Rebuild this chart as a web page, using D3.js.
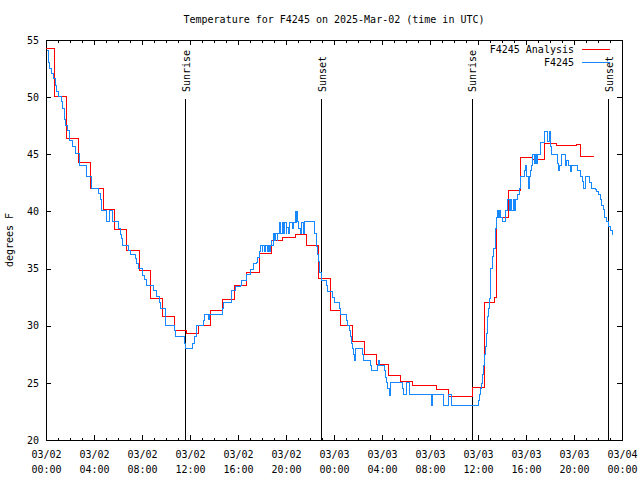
<!DOCTYPE html>
<html><head><meta charset="utf-8">
<script src="https://cdn.jsdelivr.net/npm/d3@7"></script>
<style>
body{margin:0;background:#fff}
text{font-family:"DejaVu Sans Mono",monospace;font-size:10px;fill:#000}
</style>
</head><body><svg id="c" width="640" height="480"></svg>
<script>
// ---- data (hours since 2025-03-02 00:00 UTC, degrees F) ----
const titleText = "Temperature for F4245 on 2025-Mar-02 (time in UTC)";
const yLabel = "degrees F";
const seriesNames = ["F4245 Analysis", "F4245"];
const seriesColors = ["#ff0000", "#1888ff"];

const redHours = [0,0.69,1.72,2.69,3.71,4.75,5.67,6.69,7.75,8.69,9.72,10.71,11.71,12.69,13.67,14.69,15.69,16.72,17.75,18.75,19.72,20.75,21.72,22.69,23.72,24.58,25.56,26.56,27.56,28.56,29.58,30.56,32.5,33.56,35.53,36.53,37.39,37.54,38.53,39.53,40.56,41.56,42.58,44.22,44.5,45.64];
const redValues = [54.3,50.1,46.4,44.3,42.0,40.2,38.4,36.6,34.85,32.4,30.8,29.6,29.3,30.0,31.3,32.3,33.5,34.65,36.3,37.44,37.7,38.0,37.0,34.1,31.3,30.0,28.66,27.5,26.6,25.66,25.16,24.75,24.4,23.85,24.6,32.0,32.5,39.5,41.85,44.7,44.55,45.96,45.8,45.87,44.8,44.8];

const blueHours = [0.06,0.19,0.33,0.475,0.61,0.75,0.89,1.03,1.25,1.39,1.5,1.64,1.78,1.92,2.22,2.42,2.83,3.375,3.83,4.36,4.5,4.64,5.06,5.33,5.5,6.03,6.17,6.25,6.39,6.86,7.06,7.42,7.5,7.69,8.06,8.19,8.39,8.94,9.17,9.44,9.5,9.92,10.69,10.75,11.53,11.64,12.19,12.36,12.56,13.11,13.19,13.53,13.61,14.69,14.78,15.42,15.47,15.83,16.17,16.31,16.72,17.0,17.28,17.5,17.61,17.78,17.89,18.0,18.08,18.21,18.29,18.42,18.5,18.63,18.67,18.75,18.83,18.94,19.04,19.13,19.25,19.33,19.46,19.58,19.67,19.79,19.88,20.0,20.08,20.21,20.33,20.5,20.61,20.75,20.83,20.89,20.97,21.08,21.17,21.28,21.42,21.5,22.36,22.5,22.61,22.69,22.83,22.92,22.97,23.39,23.44,23.89,24.0,24.44,24.56,25.0,25.11,25.33,25.39,25.47,25.53,25.61,25.67,25.83,26.39,26.44,27.08,27.14,27.64,27.69,27.83,28.17,28.25,28.39,28.44,28.61,28.67,28.72,29.72,29.83,30.0,30.25,30.33,32.14,32.22,33.11,33.53,33.81,36.03,36.11,36.22,36.31,36.36,36.44,36.5,36.58,36.64,36.72,36.78,36.86,36.94,37.0,37.06,37.22,37.33,37.42,37.47,37.56,37.61,37.69,37.78,37.89,38.03,38.25,38.33,38.47,38.63,38.71,38.83,38.92,39.06,39.13,39.31,39.42,39.5,39.86,39.92,40.0,40.08,40.19,40.28,40.39,40.47,40.53,40.67,40.75,40.88,40.96,41.17,41.58,41.81,41.92,42.0,42.08,42.14,42.64,42.69,42.78,42.92,42.97,43.25,43.39,43.53,43.67,43.75,44.31,44.58,44.69,44.78,44.92,45.33,45.42,45.81,45.89,46.03,46.17,46.31,46.44,46.58,46.72,46.86,47.06,47.22,47.28];
const blueValues = [54.1,53.05,52.5,52.1,51.65,51.06,50.5,50.07,49.6,49.0,48.06,47.56,47.1,46.25,45.66,45.1,44.06,43.1,42.0,41.6,41.06,40.04,39.1,40.04,39.1,38.5,38.0,37.6,37.06,36.6,36.2,35.9,35.46,35.0,34.4,34.06,33.56,33.04,32.57,32.05,31.5,30.06,29.54,29.04,28.46,28.0,28.46,29.04,30.0,30.44,30.94,30.55,30.94,31.5,32.0,32.3,33.06,33.4,33.56,34.0,34.5,34.9,35.46,35.53,36.0,36.5,37.06,36.5,37.06,36.5,37.06,36.5,37.06,36.5,37.06,37.44,37.06,38.1,37.44,38.1,37.44,38.1,39.0,38.1,39.0,38.1,39.0,38.1,38.6,38.1,39.0,38.5,39.0,40.0,39.0,40.0,39.1,38.5,38.1,39.0,38.1,39.1,38.1,36.9,36.2,35.6,34.7,34.3,34.0,33.56,33.0,32.5,32.05,31.5,31.0,30.5,30.0,29.54,29.04,28.46,28.0,27.44,27.0,28.0,27.44,27.0,26.5,26.04,26.5,27.0,26.5,26.04,25.5,25.0,24.5,23.9,24.5,25.0,24.5,24.0,25.0,24.5,24.0,23.0,24.0,23.0,24.0,23.0,23.5,23.94,24.5,24.96,25.7,26.5,27.0,27.44,28.2,29.3,30.8,31.5,32.4,34.0,35.0,36.04,36.8,37.44,38.5,39.5,40.07,39.5,40.07,39.5,39.1,39.5,40.1,41.06,40.07,41.06,40.07,41.06,40.07,41.06,41.44,42.0,43.04,43.6,44.06,43.6,43.04,42.0,43.04,43.6,44.06,44.94,44.2,44.94,44.2,44.94,46.0,46.98,46.1,46.98,46.1,45.66,45.0,44.2,43.56,44.06,44.5,45.0,44.06,44.5,44.06,43.5,44.06,43.56,43.04,42.6,42.0,43.04,42.5,42.0,41.9,41.73,41.44,41.06,40.56,40.2,39.5,39.1,38.67,38.3,38.0,38.0];

const sunLabels = ["Sunrise","Sunset","Sunrise","Sunset"];
const sunHours = [11.63,22.96,35.53,46.88];
const yTickValues = [20,25,30,35,40,45,50,55];

// ---- layout ----
const L = 46, R = 622, T = 40, B = 440;
const start = Date.UTC(2025, 2, 2);
const toDate = h => new Date(start + h * 3600e3);

const svg = d3.select("#c");
const x = d3.scaleUtc().domain([toDate(0), toDate(48)]).range([L, R]);
const y = d3.scaleLinear().domain([20, 55]).range([B, T]);

// frame
svg.append("rect").attr("x", L).attr("y", T).attr("width", R - L).attr("height", B - T)
  .attr("fill", "none").attr("stroke", "#000").attr("stroke-width", 1).attr("shape-rendering", "crispEdges");

const majorTicks = d3.utcHour.every(4).range(toDate(0), toDate(48.01));
const minorTicks = d3.utcHour.every(1).range(toDate(0), toDate(48.01));

function styleAxis(g) {
  g.select(".domain").remove();
  g.selectAll("line").attr("stroke", "#000").attr("shape-rendering", "crispEdges");
  g.selectAll("text").attr("font-family", '"DejaVu Sans Mono",monospace').attr("font-size", 10).attr("fill", "#000");
}

// bottom axis (major with labels)
const fmtDay = d3.utcFormat("%m/%d"), fmtTime = d3.utcFormat("%H:%M");
const gx = svg.append("g").attr("transform", `translate(0,${B})`)
  .call(d3.axisBottom(x).tickValues(majorTicks).tickSizeInner(-5).tickSizeOuter(0).tickPadding(11).tickFormat(() => ""))
  .call(styleAxis);
gx.selectAll(".tick text").each(function(d) {
  const t = d3.select(this);
  t.append("tspan").attr("x", 0).text(fmtDay(d));
  t.append("tspan").attr("x", 0).attr("dy", 15).text(fmtTime(d));
});
svg.append("g").attr("transform", `translate(0,${B})`)
  .call(d3.axisBottom(x).tickValues(minorTicks).tickSizeInner(-2.5).tickSizeOuter(0).tickFormat(() => ""))
  .call(styleAxis);
// top mirror
svg.append("g").attr("transform", `translate(0,${T})`)
  .call(d3.axisTop(x).tickValues(majorTicks).tickSizeInner(-5).tickSizeOuter(0).tickFormat(() => ""))
  .call(styleAxis);
svg.append("g").attr("transform", `translate(0,${T})`)
  .call(d3.axisTop(x).tickValues(minorTicks).tickSizeInner(-2.5).tickSizeOuter(0).tickFormat(() => ""))
  .call(styleAxis);
// left / right
svg.append("g").attr("transform", `translate(${L},0)`)
  .call(d3.axisLeft(y).tickValues(yTickValues).tickSizeInner(-5).tickSizeOuter(0).tickPadding(7).tickFormat(d3.format("d")))
  .call(styleAxis);
svg.append("g").attr("transform", `translate(${R},0)`)
  .call(d3.axisRight(y).tickValues(yTickValues).tickSizeInner(-5).tickSizeOuter(0).tickFormat(() => ""))
  .call(styleAxis);

// title and y label
svg.append("text").attr("x", (L + R) / 2).attr("y", 23).attr("text-anchor", "middle").text(titleText);
svg.append("text").attr("transform", `translate(13,${(T + B) / 2}) rotate(-90)`).attr("text-anchor", "middle").text(yLabel);

// sunrise / sunset markers
sunHours.forEach((h, i) => {
  const xp = x(toDate(h));
  svg.append("line").attr("x1", xp).attr("x2", xp).attr("y1", 99).attr("y2", B)
    .attr("stroke", "#000").attr("stroke-width", 1).attr("shape-rendering", "crispEdges");
  svg.append("text").attr("transform", `translate(${xp + 4},92) rotate(-90)`).attr("text-anchor", "start").text(sunLabels[i]);
});

// series
const line = d3.line().x(d => x(toDate(d[0]))).y(d => y(d[1])).curve(d3.curveStepAfter);
const redData = d3.zip(redHours, redValues);
const blueData = d3.zip(blueHours, blueValues);
[redData, blueData].forEach((data, i) => {
  svg.append("path").datum(data).attr("d", line).attr("fill", "none")
    .attr("stroke", seriesColors[i]).attr("stroke-width", 1).attr("shape-rendering", "crispEdges");
});

// legend
const legY = [49.5, 62.5];
seriesNames.forEach((name, i) => {
  svg.append("text").attr("x", 574).attr("y", legY[i] + 3.6).attr("text-anchor", "end").text(name);
  svg.append("line").attr("x1", 582).attr("x2", 610).attr("y1", legY[i]).attr("y2", legY[i])
    .attr("stroke", seriesColors[i]).attr("stroke-width", 1).attr("shape-rendering", "crispEdges");
});
</script>
</body></html>
